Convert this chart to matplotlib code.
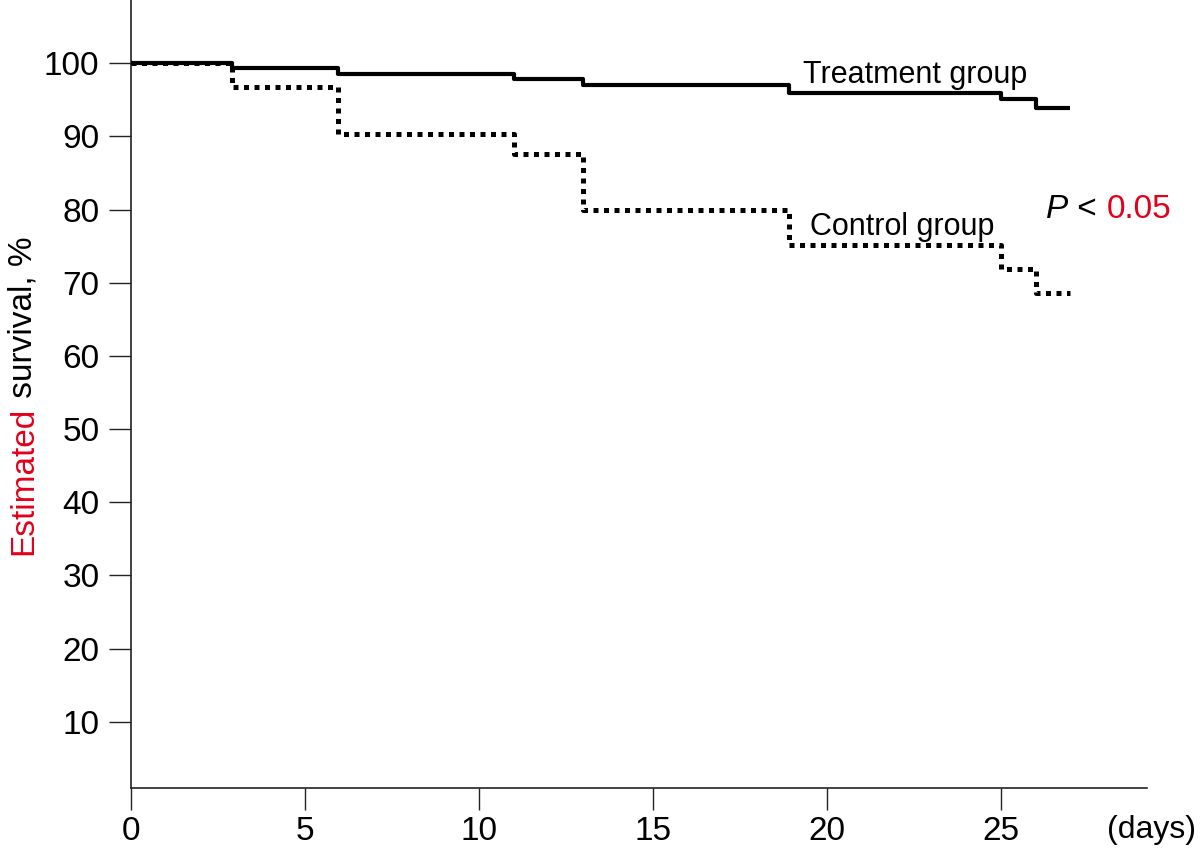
import matplotlib
matplotlib.use('Agg')
import matplotlib.pyplot as plt

plt.rcParams['font.family'] = ['Liberation Sans', 'DejaVu Sans']

# Kaplan-Meier style step data
days = [0, 2.9, 5.95, 11, 13, 18.9, 25, 26, 27]
treatment = [100, 99.4, 98.5, 97.8, 97.0, 96.0, 95.1, 93.9, 93.9]
control = [100, 96.8, 90.4, 87.6, 80.0, 75.2, 71.9, 68.6, 68.6]

x_ticks = [0, 5, 10, 15, 20, 25]
y_ticks = [10, 20, 30, 40, 50, 60, 70, 80, 90, 100]

red = '#e3001b'

fig = plt.figure(figsize=(12, 8.52), dpi=100)
ax = fig.add_axes([131.3 / 1200, 1 - 788 / 852, (1147 - 131.3) / 1200, 788 / 852])

# control group (dotted) under the treatment line
ax.step(days, control, where='post', color='black', linewidth=3.6,
        linestyle=(0, (1, 1.1)), dash_capstyle='butt', zorder=2)
ax.step(days, treatment, where='post', color='black', linewidth=3.0,
        solid_capstyle='butt', zorder=3)

ax.set_xlim(0, 29.2)
ax.set_ylim(0.94, 108.65)
ax.set_xticks(x_ticks)
ax.set_yticks(y_ticks)

for s in ['top', 'right']:
    ax.spines[s].set_visible(False)
for s in ['left', 'bottom']:
    ax.spines[s].set_linewidth(1.2)
    ax.spines[s].set_color('#222222')

ax.tick_params(axis='x', direction='out', length=16, width=1.0, pad=4,
               labelsize=24, color='#222222')
ax.tick_params(axis='y', direction='out', length=16, width=1.0, pad=7,
               labelsize=24, color='#222222')

# in-plot labels
ax.text(19.3, 97.3, 'Treatment group', fontsize=22, ha='left', va='baseline')
ax.text(19.5, 76.5, 'Control group', fontsize=22, ha='left', va='baseline')
t_p = ax.text(26.3, 78.85, 'P', fontsize=24, style='italic', ha='left', va='baseline')
fig.canvas.draw()
bb = t_p.get_window_extent()
t_lt = fig.text(bb.x1 / 1200, bb.y0 / 852, ' < ', fontsize=24, ha='left', va='bottom')
fig.canvas.draw()
bb = t_lt.get_window_extent()
fig.text(bb.x1 / 1200, bb.y0 / 852, '0.05', fontsize=24, color=red, ha='left', va='bottom')

# x axis unit
fig.text(1107 / 1200, 1 - 815 / 852, '(days)', fontsize=23, ha='left', va='top')

# y label in two colours
t1 = fig.text(32 / 1200, 1 - 555 / 852, 'Estimated', fontsize=24, color=red,
              rotation=90, rotation_mode='anchor', ha='left', va='baseline')
fig.canvas.draw()
bb = t1.get_window_extent()
fig.text(32 / 1200, bb.y1 / 852, ' survival, %', fontsize=24, color='black',
         rotation=90, rotation_mode='anchor', ha='left', va='baseline')

fig.savefig('out.png', dpi=100)
